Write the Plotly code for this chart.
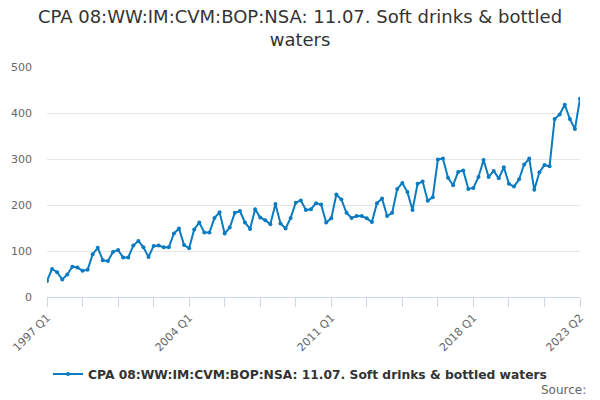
import plotly.graph_objects as go

##########################
########## DATA ##########
##########################

# Quarterly values, 1997 Q1 -> 2023 Q2
values = [
    35, 61, 54, 38, 49, 66, 64, 57, 59, 93,
    107, 80, 78, 98, 102, 86, 86, 112, 122, 108,
    87, 111, 112, 108, 108, 138, 149, 113, 106, 147,
    162, 140, 140, 172, 184, 138, 151, 183, 187, 162,
    148, 191, 173, 167, 158, 202, 160, 149, 172, 205,
    210, 189, 191, 204, 201, 162, 171, 223, 212, 183,
    172, 176, 176, 171, 163, 204, 214, 176, 183, 235,
    248, 228, 189, 246, 251, 209, 217, 299, 301, 259,
    243, 272, 275, 235, 237, 261, 298, 261, 274, 258,
    282, 246, 240, 256, 288, 301, 233, 271, 287, 284,
    387, 397, 418, 387, 365, 431,
]
quarters = [f"{y} Q{q}" for y in range(1997, 2024) for q in range(1, 5)][:len(values)]

series_name = "CPA 08:WW:IM:CVM:BOP:NSA: 11.07. Soft drinks & bottled waters"
title_text = "CPA 08:WW:IM:CVM:BOP:NSA: 11.07. Soft drinks & bottled<br>waters"
labelled = ["1997 Q1", "2004 Q1", "2011 Q1", "2018 Q1", "2023 Q2"]
y_ticks = [0, 100, 200, 300, 400, 500]

# ticks every 7 quarters, labels only on some of them
tick_vals = quarters[::7]
tick_text = [q if q in labelled else "" for q in tick_vals]

##########################
########## PLOT ##########
##########################

font = "DejaVu Sans, Arial, sans-serif"
line_color = "#0a7bc1"

fig = go.Figure()
fig.add_trace(go.Scatter(
    x=quarters, y=values, name=series_name,
    mode="lines+markers",
    line=dict(color=line_color, width=2),
    marker=dict(color=line_color, size=4),
))

fig.update_layout(
    width=600, height=400,
    paper_bgcolor="white", plot_bgcolor="white",
    margin=dict(l=47, r=20, t=67, b=103, autoexpand=False),
    font=dict(family=font, color="#666666", size=11),
    title=dict(text=title_text, x=0.5, xanchor="center", y=0.9425, yanchor="middle",
               font=dict(size=18, color="#333333", family=font)),
    showlegend=True,
    legend=dict(orientation="h", x=0.5, xanchor="center", xref="container",
                y=0.065, yanchor="middle", yref="container", itemwidth=30,
                font=dict(size=12.3, color="#333333", family=font, weight="bold")),
    annotations=[dict(text="Source:", xref="paper", yref="paper", x=1.015, y=-0.405,
                      xanchor="right", yanchor="middle", showarrow=False,
                      font=dict(size=12, color="#666666", family=font))],
)

fig.update_xaxes(
    type="category", range=[0, len(values) - 1], automargin=False,
    tickmode="array", tickvals=tick_vals, ticktext=tick_text,
    tickangle=-45, ticks="outside", ticklen=9, tickcolor="#ccd6eb",
    showline=True, linecolor="#ccd6eb", linewidth=1,
    showgrid=False, zeroline=False,
    tickfont=dict(size=11, color="#666666"),
)
fig.update_yaxes(
    range=[0, 500], tickvals=y_ticks, automargin=False,
    showgrid=True, gridcolor="#e6e6e6", zeroline=False,
    ticks="", tickfont=dict(size=11, color="#666666"),
    ticklabelstandoff=14,
)

# page has a default body margin, drop it so the chart sits at 0,0
fig.write_html("out.html", config={"displayModeBar": False},
               post_script="document.body.style.margin='0';")
